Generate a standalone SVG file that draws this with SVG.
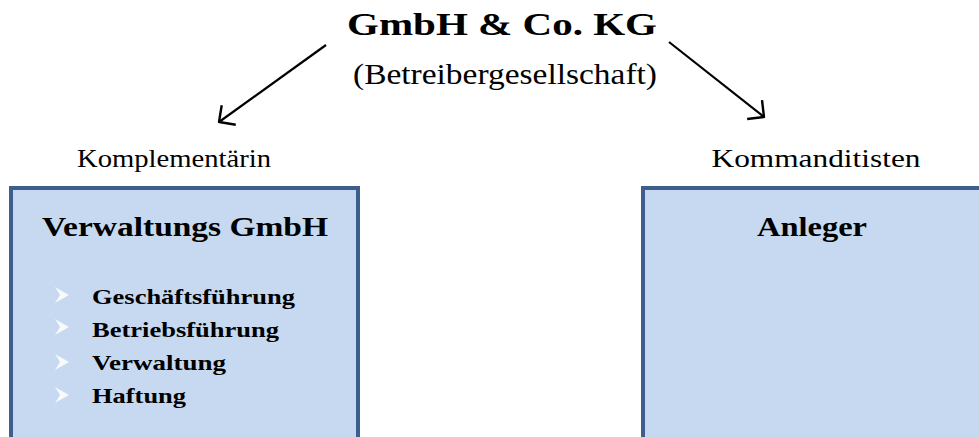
<svg xmlns="http://www.w3.org/2000/svg" width="979" height="437" viewBox="0 0 979 437">
<style>
text{font-family:"Liberation Serif","DejaVu Serif",serif;fill:#000}
.b{font-weight:bold}
.box{fill:#C6D9F0;stroke:#3E5F8E;stroke-width:4}
.bul{fill:#F7F9FD}
.conn{stroke:#000;stroke-width:2.2;fill:none}
</style>
<defs>
<marker id="ah" viewBox="0 0 14 26" refX="13" refY="13" markerWidth="14" markerHeight="26" markerUnits="userSpaceOnUse" orient="auto">
<path d="M1,1 L13,13 L1,25" fill="none" stroke="#000" stroke-width="2.4"/>
</marker>
<path id="bullet" class="bul" d="M0,-8 L14,0 L0,8 L5,0 Z"/>
</defs>
<rect width="979" height="437" fill="#fff"/>
<g id="title">
<text class="b" x="502" y="35" font-size="32" text-anchor="middle" textLength="310" lengthAdjust="spacingAndGlyphs">GmbH &amp; Co. KG</text>
<text x="505" y="84" font-size="30" text-anchor="middle" textLength="304" lengthAdjust="spacingAndGlyphs">(Betreibergesellschaft)</text>
</g>
<g id="connectors">
<line class="conn" x1="326" y1="45" x2="219" y2="122" marker-end="url(#ah)"/>
<line class="conn" x1="669" y1="42" x2="764" y2="117" marker-end="url(#ah)"/>
</g>
<g id="label-left">
<text x="174" y="167" font-size="26" text-anchor="middle" textLength="194" lengthAdjust="spacingAndGlyphs">Komplementärin</text>
</g>
<g id="label-right">
<text x="816" y="167" font-size="26" text-anchor="middle" textLength="209" lengthAdjust="spacingAndGlyphs">Kommanditisten</text>
</g>
<g id="verwaltung">
<rect class="box" x="11" y="188" width="347" height="260"/>
<text class="b" x="185" y="236" font-size="28" text-anchor="middle" textLength="286" lengthAdjust="spacingAndGlyphs">Verwaltungs GmbH</text>
<use href="#bullet" x="55" y="295"/>
<use href="#bullet" x="55" y="327"/>
<use href="#bullet" x="55" y="362"/>
<use href="#bullet" x="55" y="395"/>
<text class="b" x="92" y="304" font-size="21" textLength="203" lengthAdjust="spacingAndGlyphs">Geschäftsführung</text>
<text class="b" x="92" y="337" font-size="21" textLength="187" lengthAdjust="spacingAndGlyphs">Betriebsführung</text>
<text class="b" x="92" y="370" font-size="21" textLength="134" lengthAdjust="spacingAndGlyphs">Verwaltung</text>
<text class="b" x="92" y="403" font-size="21" textLength="94" lengthAdjust="spacingAndGlyphs">Haftung</text>
</g>
<g id="anleger">
<rect class="box" x="643" y="188" width="350" height="260"/>
<text class="b" x="812" y="236" font-size="28" text-anchor="middle" textLength="110" lengthAdjust="spacingAndGlyphs">Anleger</text>
</g>
</svg>
